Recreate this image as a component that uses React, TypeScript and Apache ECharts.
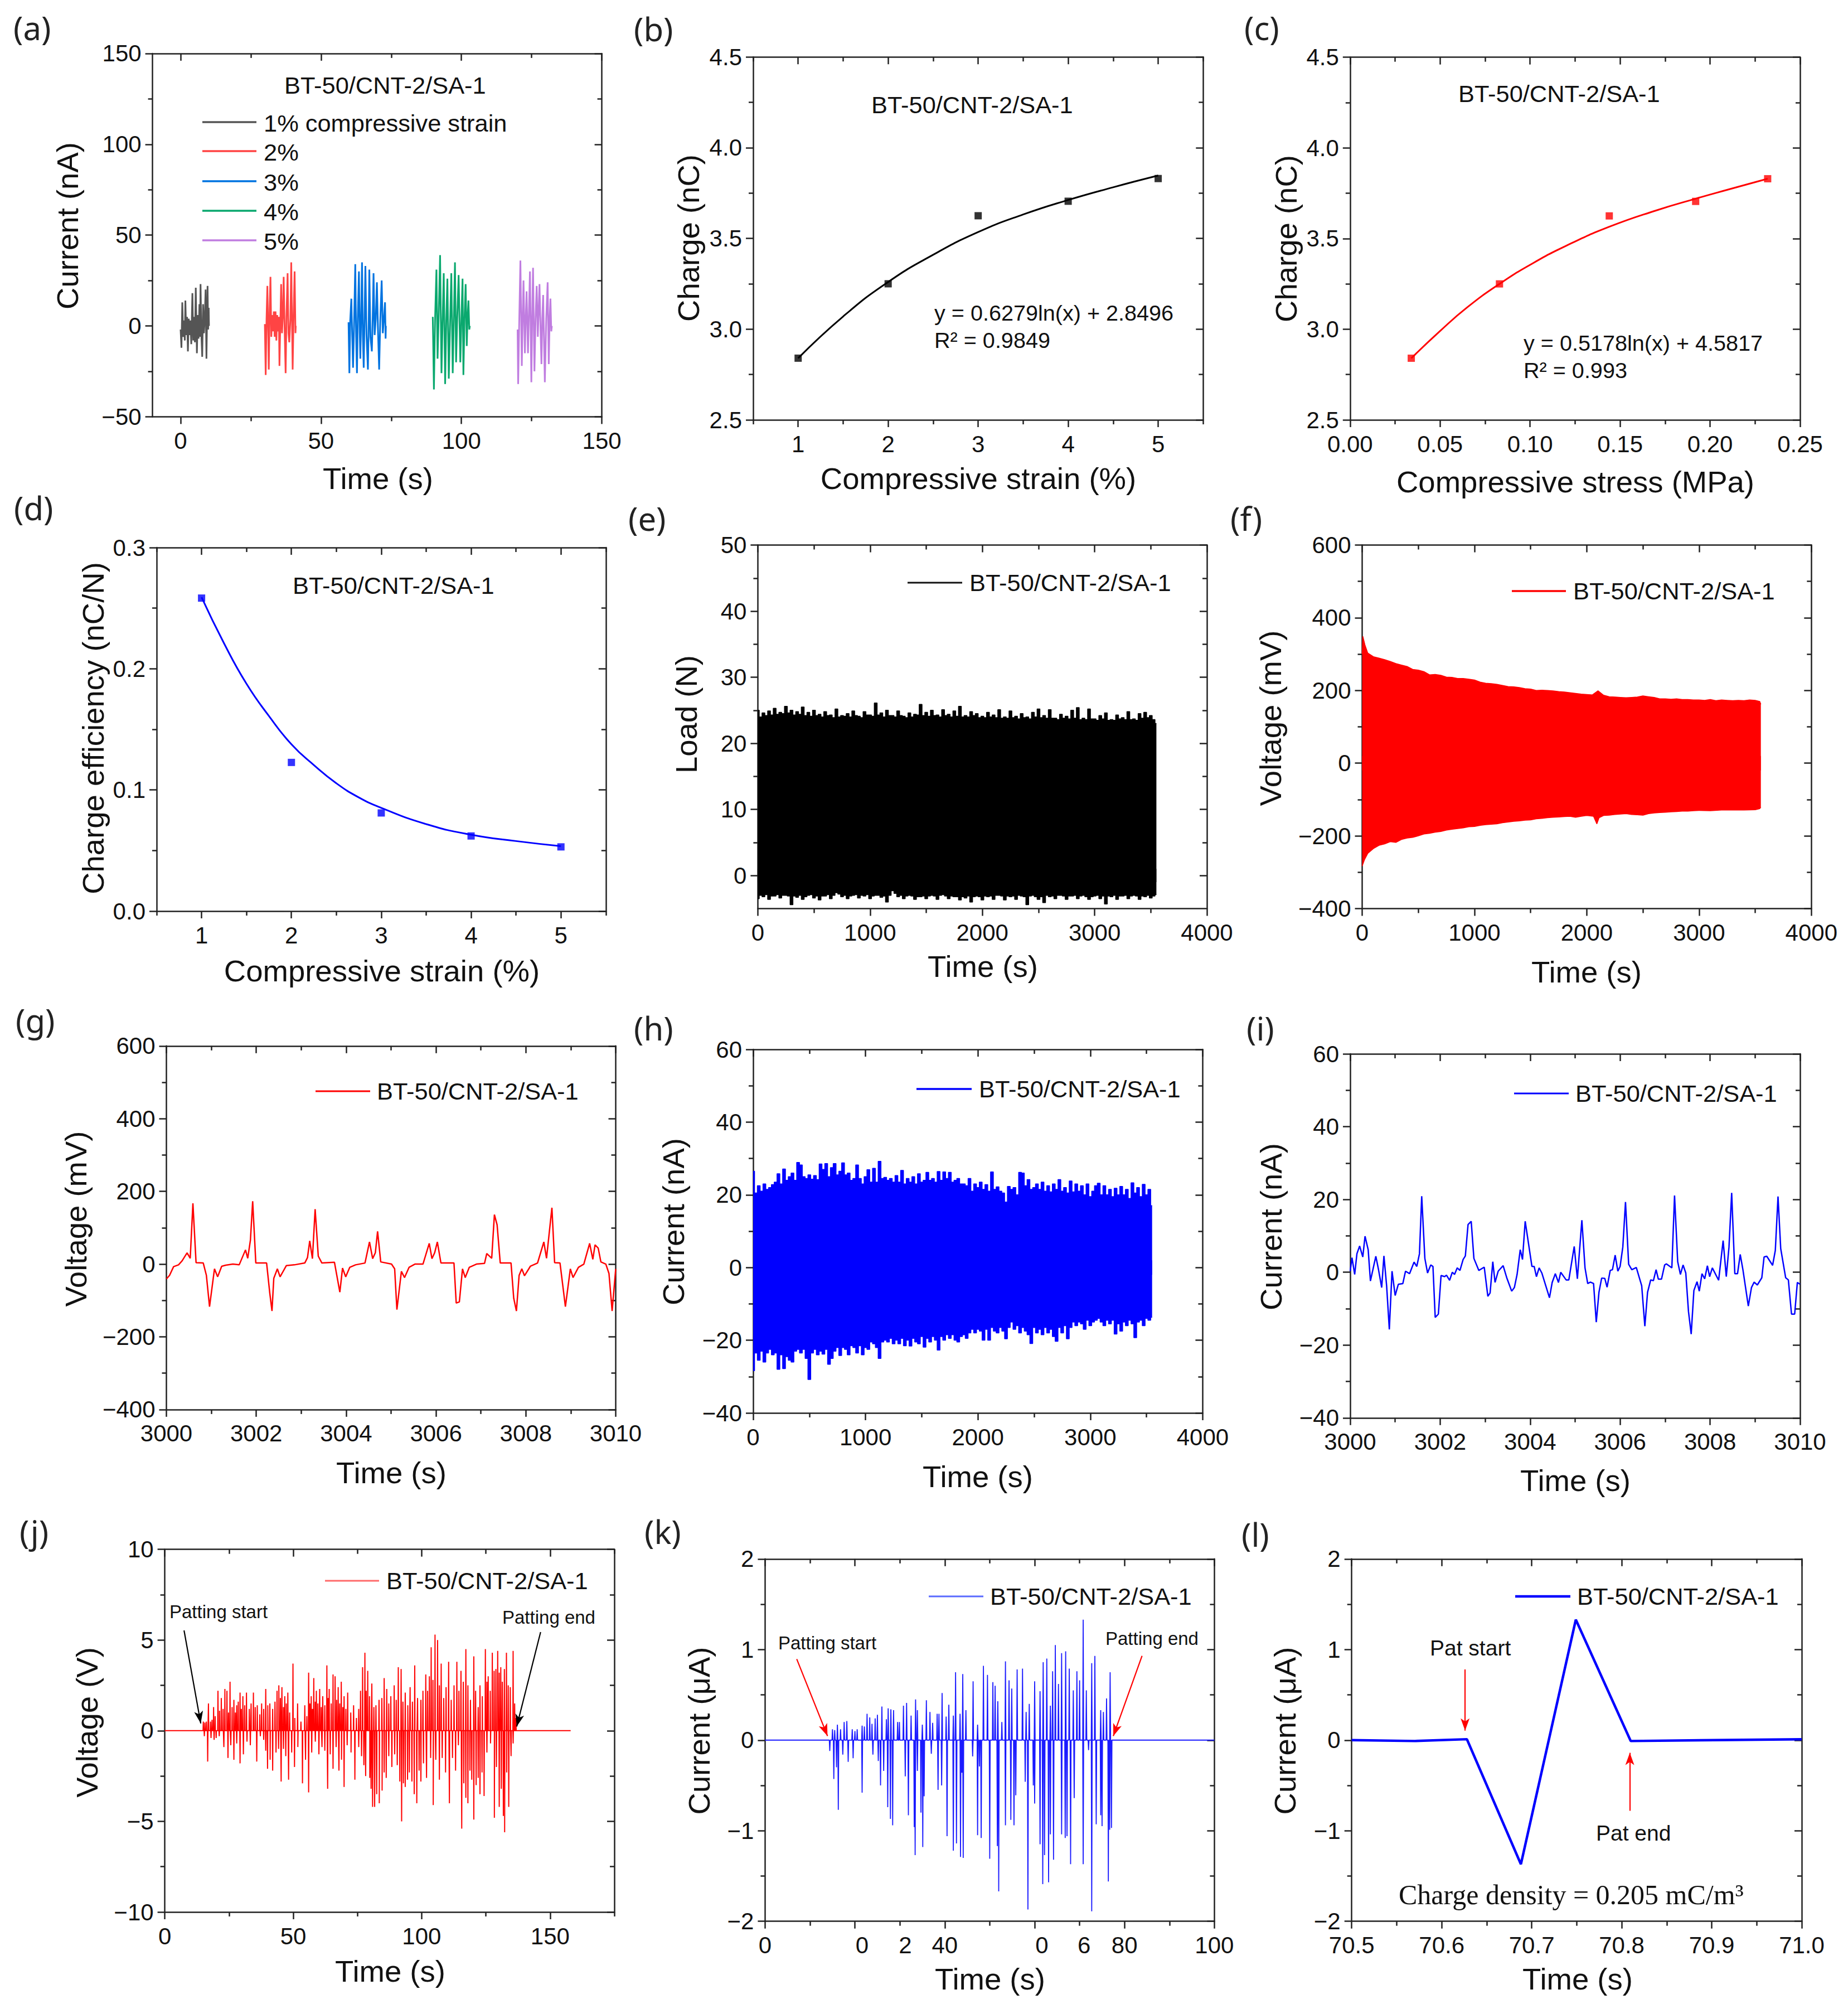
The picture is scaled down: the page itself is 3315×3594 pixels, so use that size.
import { useRef, useEffect } from 'react'
import * as echarts from 'echarts'

const SANS = '"Liberation Sans", Arial, sans-serif'
const TEXT = '#111'
const AXIS = '#222'
const LEGEND_NAME = 'BT-50/CNT-2/SA-1'
const TITLE_SIZE = 54.5
const LEGEND_SIZE = 43.4

// (a) current bursts at increasing strain, [time, nA]
const strain1 = [[0,-2],[0.3,-12],[0.6,13],[0.9,-6],[1.2,3],[1.5,-8],[1.7,14],[2.0,-5],[2.3,5],[2.6,-14],[2.9,4],[3.2,-5],[3.5,3],[3.8,-10],[4.2,18],[4.5,-8],[4.8,5],[5.1,-9],[5.4,21],[5.8,-15],[6.1,6],[6.4,-7],[6.7,12],[6.9,-6],[7.1,23],[7.4,-5],[7.7,-17],[8.0,12],[8.3,-4],[8.6,4],[8.9,20],[9.2,-18],[9.6,22],[9.8,-2],[10,10],[10.1,0]]
const strain2 = [[30,1],[30.3,-27],[30.6,4],[30.9,22],[31.2,-4],[31.4,-24],[31.7,8],[32,27],[32.3,-6],[32.6,6],[32.9,-3],[33.2,8],[33.5,-6],[33.8,8],[34.1,-8],[34.4,6],[34.7,-3],[35,5],[35.2,-22],[35.8,23],[36.1,-4],[36.4,5],[36.7,27],[37.1,-6],[37.4,-26],[37.7,5],[38.1,29],[38.4,-4],[38.7,-9],[39.1,4],[39.4,35],[39.9,-24],[40.2,3],[40.6,30],[40.9,-4],[41,0]]
const strain3 = [[59.8,2],[60.1,-26],[60.4,3],[60.8,15],[61.1,-5],[61.4,-23],[61.8,3],[62.2,34],[62.5,-6],[62.8,-26],[63.1,4],[63.5,30],[63.8,-4],[64,-18],[64.3,5],[64.6,35],[64.9,-5],[65.2,-23],[65.5,4],[65.8,33],[66.2,-5],[66.7,-24],[67,3],[67.2,31],[67.6,-6],[68.1,-14],[68.4,4],[68.7,29],[69.1,-5],[69.5,4],[69.9,24],[70.3,-3],[70.7,-24],[71.1,3],[71.6,25],[72,-4],[72.4,4],[72.8,13],[73,-7],[73.1,0]]
const strain4 = [[89.8,5],[90.2,-35],[90.6,3],[91.1,31],[91.5,-18],[91.9,5],[92.4,39],[92.9,-26],[93.3,3],[93.7,29],[94.2,-32],[94.6,3],[95,26],[95.5,-29],[96,4],[96.4,29],[96.9,-26],[97.3,4],[97.7,35],[98.1,-20],[98.5,4],[99,28],[99.6,-20],[100,4],[100.4,26],[100.7,-27],[101.1,4],[101.5,23],[101.9,-11],[102.2,5],[102.5,14],[102.8,-2],[103,0]]
const strain5 = [[120,-2],[120.2,-32],[120.6,4],[121,36],[121.5,-22],[121.8,4],[122.1,25],[122.6,-15],[122.9,4],[123.2,19],[123.7,-15],[124,5],[124.4,30],[124.9,-31],[125.2,5],[125.5,32],[126,-25],[126.4,4],[126.8,22],[127.2,-6],[127.8,23],[128.2,-4],[128.5,-21],[128.8,4],[129.1,17],[129.7,-31],[130.2,4],[130.7,24],[131.1,-21],[131.4,3],[131.7,15],[132,-3],[132.2,0]]
const strainColors = ['#555555', '#ff4444', '#0073e0', '#0aa86e', '#c07de0']
const strainLabels = ['1% compressive strain', '2%', '3%', '4%', '5%']

// (b) charge vs strain
const chargeStrainPts = [[1,2.84],[2,3.25],[3,3.625],[4,3.705],[5,3.83]]
const chargeStrainFit = [[1,2.84],[1.5,3.07],[2,3.26],[2.5,3.41],[3,3.535],[3.5,3.632],[4,3.712],[4.5,3.782],[5,3.847]]
// (c) charge vs stress
const chargeStressPts = [[0.034,2.84],[0.083,3.25],[0.144,3.625],[0.192,3.705],[0.232,3.83]]
const chargeStressFit = [[0.034,2.84],[0.05,2.99],[0.065,3.12],[0.083,3.25],[0.1,3.355],[0.12,3.46],[0.144,3.565],[0.17,3.655],[0.192,3.72],[0.21,3.77],[0.232,3.83]]
// (d) charge efficiency
const efficiencyPts = [[1,0.2583],[2,0.1227],[3,0.081],[4,0.062],[5,0.053]]
const efficiencyFit = [[1,0.259],[1.25,0.221],[1.5,0.1876],[1.75,0.161],[2,0.1377],[2.25,0.1205],[2.5,0.1055],[2.75,0.0938],[3,0.0852],[3.5,0.0718],[4,0.063],[4.5,0.0578],[5,0.0536]]

// (e) load band, upper and lower edge read every 25 s
const loadUpper = [25.0,24.0,24.6,24.2,24.9,24.3,25.3,24.4,24.7,24.5,25.6,24.6,25.0,24.3,24.8,24.4,25.5,24.2,24.7,24.1,25.0,24.2,24.4,24.0,24.8,24.2,24.3,23.9,25.2,24.0,24.2,24.1,24.5,24.0,24.9,24.2,24.1,23.9,24.8,24.3,24.3,24.1,26.1,24.3,24.6,24.0,25.0,24.2,24.2,24.0,24.9,24.2,24.1,23.9,24.6,24.0,24.4,24.3,25.9,24.2,24.7,24.1,25.0,24.2,24.3,24.0,25.1,24.2,24.4,24.0,24.9,24.1,25.6,24.0,24.2,24.0,24.8,24.2,24.5,23.9,24.1,23.9,24.7,24.0,24.3,23.9,25.1,23.8,24.0,23.8,24.9,23.9,24.1,23.7,24.5,23.9,24.0,23.7,24.7,24.0,25.2,23.9,24.2,23.8,25.1,23.8,23.8,23.6,24.4,23.8,24.1,23.7,25.0,23.8,25.4,23.6,23.8,23.6,25.2,23.7,23.7,23.5,24.2,23.7,24.6,23.5,23.6,23.5,24.3,23.7,23.9,23.6,24.8,23.6,23.7,23.5,24.5,23.8,24.7,23.9,24.2,23.6,23.0]
const loadLower = [-3.5,-3.0,-3.2,-2.9,-3.6,-3.1,-3.1,-2.9,-3.4,-3.0,-3.0,-3.1,-4.4,-3.1,-3.3,-3.0,-3.6,-3.2,-3.0,-2.9,-3.4,-3.1,-3.7,-3.1,-3.1,-2.9,-3.5,-3.0,-2.6,-2.8,-3.2,-3.0,-3.5,-3.1,-3.0,-2.9,-3.4,-3.0,-3.1,-2.9,-3.5,-3.1,-3.0,-3.0,-3.3,-3.1,-4.0,-3.0,-2.3,-2.7,-3.2,-3.0,-3.5,-3.1,-3.0,-3.1,-3.6,-3.2,-3.2,-3.1,-3.5,-3.1,-3.0,-3.1,-3.6,-3.0,-2.9,-3.1,-3.5,-3.1,-3.2,-3.2,-3.7,-3.2,-3.4,-3.1,-4.0,-3.2,-3.1,-3.2,-3.7,-3.1,-3.2,-3.1,-3.6,-3.0,-3.0,-3.1,-3.7,-3.1,-3.2,-3.1,-3.6,-3.0,-3.1,-3.2,-4.4,-3.1,-3.0,-3.2,-3.6,-3.2,-4.1,-3.0,-3.2,-3.1,-3.5,-3.0,-3.0,-3.1,-3.6,-3.1,-3.1,-3.0,-3.5,-3.1,-3.0,-3.2,-3.6,-3.2,-3.1,-3.0,-3.5,-3.1,-4.3,-3.1,-3.2,-3.0,-3.6,-3.1,-3.1,-3.0,-3.5,-3.1,-3.0,-3.1,-3.6,-3.1,-3.2,-3.0,-3.4,-3.1,-2.9]

// (f) voltage band
const voltUpper = [[0,300],[6,349],[25,325],[50,303],[100,293],[150,289],[200,285],[250,280],[300,274],[350,270],[400,266],[450,258],[500,256],[550,252],[600,243],[650,244],[700,242],[750,237],[800,236],[850,233],[900,233],[950,231],[1000,229],[1050,223],[1100,220],[1150,219],[1200,217],[1250,214],[1300,211],[1350,210],[1400,208],[1450,205],[1500,204],[1550,200],[1600,201],[1650,200],[1700,199],[1750,197],[1800,196],[1850,194],[1900,192],[1950,190],[2000,189],[2050,188],[2100,199],[2150,187],[2200,183],[2250,182],[2300,181],[2350,180],[2400,181],[2450,182],[2500,185],[2550,183],[2600,181],[2650,177],[2700,177],[2750,176],[2800,177],[2850,175],[2900,175],[2950,174],[3000,174],[3050,173],[3100,175],[3150,172],[3200,174],[3250,173],[3300,172],[3350,173],[3400,172],[3450,174],[3500,173],[3540,170],[3550,162]]
const voltLower = [[0,-283],[20,-266],[50,-248],[100,-235],[150,-226],[200,-222],[250,-216],[300,-218],[350,-210],[400,-206],[450,-204],[500,-200],[550,-195],[600,-193],[650,-190],[700,-188],[750,-184],[800,-182],[850,-180],[900,-178],[950,-175],[1000,-174],[1050,-171],[1100,-169],[1150,-168],[1200,-167],[1250,-164],[1300,-162],[1350,-160],[1400,-159],[1450,-157],[1500,-156],[1550,-153],[1600,-152],[1650,-150],[1700,-149],[1750,-148],[1800,-147],[1850,-146],[1900,-149],[1950,-146],[2000,-144],[2060,-146],[2090,-167],[2110,-150],[2150,-144],[2200,-143],[2250,-141],[2300,-140],[2350,-139],[2400,-141],[2450,-142],[2500,-143],[2550,-139],[2600,-137],[2650,-136],[2700,-135],[2750,-134],[2800,-133],[2850,-132],[2900,-132],[2950,-131],[3000,-130],[3100,-131],[3200,-129],[3300,-129],[3400,-129],[3500,-128],[3540,-125],[3550,-121]]

// (g) voltage detail, time offset from 3000 s
const voltDetail = [[0,-41],[.07,-31],[.16,-7],[.27,-2],[.35,9],[.46,31],[.53,16],[.59,167],[.66,4],[.82,3],[.89,-31],[.96,-117],[1.07,-13],[1.14,-35],[1.23,-6],[1.32,-3],[1.48,0],[1.62,-2],[1.76,39],[1.81,16],[1.87,66],[1.92,173],[1.99,3],[2.23,3],[2.30,-79],[2.35,-129],[2.39,-39],[2.47,-13],[2.53,-35],[2.67,-4],[2.85,-2],[3.08,3],[3.14,18],[3.19,64],[3.25,15],[3.31,151],[3.38,22],[3.46,3],[3.74,5],[3.86,-77],[3.92,-11],[3.99,-35],[4.08,-9],[4.21,-2],[4.42,3],[4.52,61],[4.59,15],[4.65,31],[4.70,90],[4.77,6],[5.01,0],[5.08,-13],[5.13,-125],[5.23,-20],[5.30,-37],[5.40,-9],[5.53,0],[5.71,0],[5.85,57],[5.91,15],[5.97,31],[6.03,61],[6.11,3],[6.40,3],[6.45,-107],[6.52,-104],[6.59,-13],[6.65,-37],[6.74,-9],[6.90,0],[7.08,2],[7.13,29],[7.24,16],[7.30,136],[7.36,108],[7.43,3],[7.67,3],[7.73,-94],[7.79,-129],[7.85,-31],[7.91,-13],[7.97,-32],[8.10,-6],[8.26,3],[8.40,61],[8.46,16],[8.58,155],[8.64,4],[8.76,3],[8.88,-117],[8.99,-13],[9.05,-37],[9.17,-9],[9.29,0],[9.42,57],[9.49,13],[9.54,53],[9.61,44],[9.67,6],[9.78,0],[9.85,-26],[9.92,-129],[10,-13]]

// (h) current band, edges read every 25 s
const currentUpper = [26.5,20.5,22.5,21,23,21.5,22,22.8,23.5,25.8,23,27.1,24,25,26,24,28.9,28.2,25,24.5,25.5,24.3,25.3,24.2,28.5,27,28.6,25,27.5,28.6,25.5,26.5,28.8,25.5,26,24,24.5,28.2,24.5,23,25,26.9,23.5,27.3,23.5,29.2,24.5,24.8,24,24.5,23.5,25.3,23.5,26.7,23,24.5,23.5,25,23,25.8,23.5,24,26.2,24,24.5,23.5,26.4,24,26.3,24.5,26.2,23.5,24,24.5,23,23,22.5,24.5,21,23,22,23.5,21.5,22.8,21,26.3,21.5,22.2,21,20.5,18,22.3,21.5,22,20,26.2,26,22.5,24.2,21.5,22,23,21.5,23.5,21,22.5,20.8,23,21.5,24.2,21,22,20.5,23.8,20.8,23,21,22.5,20,23,19.5,21,22.5,23.2,20,22.5,20,21.5,19.5,21.8,20,22.3,20,21.5,19,23.3,20.5,22,19.5,22.9,20,21.5,17]
const currentLower = [-28.4,-23.5,-25.5,-23,-26,-23.5,-22.5,-24,-23.5,-28,-24,-27.8,-24.5,-25.5,-26,-23,-22.5,-23.5,-22.5,-25,-30.8,-23.5,-22.5,-24,-23,-23.8,-22.5,-26.6,-25,-23,-22,-24.2,-22,-22.5,-24,-21.5,-22,-23.5,-21.5,-24,-22,-22.5,-20.5,-21,-22,-25,-20.5,-20,-20.5,-19.5,-21,-20,-21,-19.5,-21.5,-20,-21.6,-19.5,-20.5,-21,-19,-21.9,-19.5,-20.5,-19,-20,-22.7,-19,-20,-18.5,-19.5,-18.5,-20,-20.5,-19,-18.5,-19.5,-18,-17,-18,-17,-17.5,-20,-17,-20,-16.5,-17.5,-18,-16.5,-17.5,-19.6,-16.5,-15,-17,-16,-18,-16.5,-17.5,-18.5,-20.9,-16.5,-18,-17,-18.5,-16.5,-18,-17,-19,-20.3,-16.5,-18,-16,-19.6,-16.5,-15,-16,-15,-15.5,-17,-14.5,-16,-15,-14.5,-14,-15,-16,-14.5,-15.5,-14.5,-18.3,-15.5,-17.5,-15,-16,-14.5,-15.5,-19.3,-15,-14.5,-16,-14,-14.5,-13.7]

// (i) current detail, time offset from 3000 s
const currentDetail = [[0,.3],[.04,4],[.10,-.6],[.15,5.1],[.21,7.2],[.28,4.2],[.33,9.9],[.40,6.2],[.45,-2.4],[.57,4.4],[.63,.7],[.70,-4.2],[.75,4.5],[.81,-3.7],[.87,-15.7],[.93,.3],[1.00,-6.4],[1.07,-3.3],[1.17,-3.1],[1.23,.3],[1.32,-.4],[1.42,2.8],[1.48,1.6],[1.54,5.1],[1.59,20.9],[1.66,3.8],[1.72,-.2],[1.79,2],[1.84,1.6],[1.89,-12.4],[1.96,-11.5],[2.02,-.9],[2.10,-1.2],[2.14,-.8],[2.21,-2.2],[2.27,0],[2.32,-.6],[2.38,1.2],[2.44,.5],[2.51,3.5],[2.56,4.5],[2.62,13.1],[2.69,14],[2.75,3.8],[2.86,.5],[2.98,1.4],[3.06,-6.6],[3.11,-5.7],[3.17,2.9],[3.22,-2.8],[3.29,.3],[3.40,1.8],[3.48,-1.5],[3.59,-5.2],[3.65,-4.2],[3.71,-.6],[3.78,6.2],[3.83,3.5],[3.89,14],[4.04,1.6],[4.09,1.6],[4.14,-1.2],[4.20,1.2],[4.26,-.2],[4.43,-7],[4.49,-2.8],[4.56,-.4],[4.63,-2.8],[4.68,0],[4.80,-2.1],[4.86,-2.1],[4.98,7.1],[5.05,-1.8],[5.15,14.3],[5.22,1.2],[5.28,-3.1],[5.34,-2.7],[5.41,-3.1],[5.47,-13.7],[5.53,-5.5],[5.59,-1.6],[5.66,-1.7],[5.71,-4.1],[5.78,.5],[5.83,.7],[5.89,4.7],[5.95,.3],[6.00,1.6],[6.06,6.9],[6.12,19.3],[6.19,2.2],[6.26,.7],[6.36,1.3],[6.48,-3.7],[6.55,-14.8],[6.61,-5.5],[6.68,-2.1],[6.74,-2.3],[6.80,.7],[6.85,-1.9],[6.92,-1.9],[6.99,2],[7.03,2.3],[7.15,1.2],[7.21,21.1],[7.28,2.9],[7.34,-.6],[7.40,2],[7.46,-.2],[7.52,-10.8],[7.58,-17],[7.64,-5],[7.71,-2.6],[7.76,-5.2],[7.82,-.4],[7.88,-1.8],[7.94,1.8],[7.99,-1.2],[8.05,1.2],[8.19,-2.2],[8.29,8.7],[8.36,-1.2],[8.42,6.9],[8.48,21.8],[8.55,-.4],[8.61,-.4],[8.67,4.9],[8.73,.7],[8.85,-9.3],[8.92,-4.2],[8.98,-2.7],[9.05,-3.5],[9.15,-1.5],[9.20,4.2],[9.26,4.4],[9.39,1.9],[9.45,6],[9.51,20.8],[9.57,6.5],[9.68,-1.5],[9.74,-2.1],[9.81,-11.5],[9.88,-11.5],[9.94,-2.8],[10,-3.3]]

// (j) patting voltage spikes, [time, V]
const patVoltUp = [[15,.5],[15.6,.45],[16.2,.5],[17,1.5],[17.8,.5],[18.4,.6],[19,1.3],[19.6,.8],[20.7,2.2],[21.3,1.1],[22,1.8],[22.7,1.2],[23.4,2.3],[24.2,2.2],[24.8,1],[25.4,2.7],[26.2,1.3],[26.9,1.7],[27.5,1],[28,1.4],[28.6,1.6],[29.3,2.1],[29.8,1.2],[30.4,1.9],[31.1,1.4],[31.8,2.1],[32.9,1.2],[33.6,1.5],[34.5,2.1],[35.2,1.3],[36,1.4],[37,.9],[37.7,1.5],[38.5,1.2],[39.3,2.3],[40.1,1.4],[40.9,1.5],[42,1.2],[42.9,1.6],[43.7,2.2],[44.4,2.5],[45,1.8],[45.6,2.4],[46.2,1.3],[46.7,1.9],[47.3,1.5],[47.9,2.1],[48.6,1],[49.9,3.7],[50.6,.7],[51.7,1.5],[53,.5],[54.5,1.4],[55.3,.8],[56,3.2],[56.5,1.5],[57,1.9],[57.5,1.2],[58,2.9],[58.6,1.6],[59,2.2],[59.6,1.5],[60.3,2.3],[60.9,1.3],[61.5,1.9],[62.3,1.4],[63.1,3.6],[63.6,1.8],[64,2.3],[64.8,1.5],[65.5,3.1],[66.3,3],[66.9,1.7],[67.5,2.4],[68.1,1.5],[68.7,2.7],[69.3,1.3],[69.8,1.9],[70.5,1.2],[71.2,2.1],[72.4,1],[73.5,1.4],[74.6,.7],[75.5,1.2],[76.2,2.2],[77,3.5],[77.9,4.3],[78.4,2.2],[79,3.3],[79.7,1.9],[80.6,2.6],[81.4,1.3],[82.2,1.4],[83.4,1.7],[84.5,1.8],[85.4,2.9],[86.4,2.3],[87.2,1.5],[88,1.9],[89.3,2.5],[90.1,1.7],[90.9,3.5],[92,3.4],[92.7,1.6],[93.6,2.1],[94.6,1.4],[95.5,2.4],[96.4,1.6],[97.3,3.6],[98.4,1.8],[99.7,1.7],[100.5,2.2],[101.6,3.1],[102.3,2.2],[103,3],[103.7,4.6],[104.4,2.8],[105.2,5.3],[106.2,5],[106.9,2.5],[107.6,3.7],[108.6,1.8],[109.5,2.4],[110.5,3.8],[111.5,1.7],[112.6,2.5],[113.7,3.8],[114.5,2.2],[115.3,3.3],[116.2,2.7],[117.2,4.5],[118,2.5],[119,1.7],[120.3,4.1],[121,2.2],[122,1.3],[122.7,2.5],[123.6,1.9],[124.8,4.5],[125.4,2.7],[125.9,3],[126.7,2.2],[127.5,4.3],[128.2,3.3],[128.9,3.4],[129.6,4.4],[130.2,3.2],[130.8,3.5],[131.4,2.7],[132.2,3.4],[133,4.3],[133.7,2.5],[134.5,2.4],[135.6,4.4],[136.2,1.5],[136.7,.7]]
const patVoltDown = [[15.4,-.3],[16.7,-1.7],[18,-.4],[19.2,-.5],[20,-.4],[21.2,-.3],[23,-.9],[24.6,-1.5],[25.7,-.8],[26.9,-1.6],[28,-.7],[29.3,-1.8],[30.6,-1.3],[32,-.6],[33.3,-.8],[35.8,-1.7],[37.2,-.3],[38.5,-.5],[39.3,-1.1],[40,-2.1],[41,-1.6],[42,-2.2],[43.3,-1.2],[44.3,-1],[45.3,-2.8],[46.2,-1],[47.1,-1.4],[48.2,-2.7],[49.4,-1.2],[50.5,-2],[51.8,-.9],[53.6,-2.9],[54.8,-1.6],[56,-3.4],[57.2,-1.2],[58.6,-.6],[60,-1.3],[61.2,-.9],[62.3,-1.1],[63.4,-3.2],[64.4,-1.3],[65.5,-2.1],[66.7,-.9],[67.8,-2.2],[68.8,-1.6],[69.8,-3.1],[71,-.8],[72.5,-1.2],[74,-2.7],[75.5,-.9],[76.6,-1.4],[77.5,-1.9],[78.2,-2.5],[79.8,-2.6],[80.3,-3.2],[80.9,-4.2],[81.7,-4.2],[82.5,-3.5],[83.5,-4],[84.6,-3.3],[85.4,-2.3],[86.2,-2.6],[87.2,-1.4],[88.4,-2],[89.5,-1.3],[90.5,-1.9],[91.5,-2.8],[92.2,-5],[92.9,-2.9],[93.6,-3.1],[94.5,-2.7],[95.2,-2.3],[96.2,-2.8],[97.1,-3.5],[98.1,-4],[99,-2.2],[99.7,-2.8],[100.7,-1.8],[101.9,-2.6],[103.5,-1.5],[104.5,-4.1],[105.5,-1.6],[106.9,-2.7],[108,-1.5],[109.3,-2.3],[110.8,-4],[112,-1.5],[113.2,-2.2],[114.3,-.8],[115.6,-5.4],[116.4,-2.9],[117.2,-3.7],[118,-4],[118.8,-2.2],[119.5,-2.7],[120.3,-4.9],[121.2,-3],[122,-2.6],[122.7,-3.5],[123.5,-2.3],[124.3,-3.6],[125.4,-1.2],[126.8,-.7],[128.3,-4.8],[129.1,-2],[130.2,-4.2],[131,-3.2],[131.8,-4.7],[132.3,-5.6],[133.1,-2.3],[133.9,-4.2],[134.8,-1.4],[135.6,-.7]]

// (k) patting current spikes, [time, uA]
const patCurrentUp = [[15,.12],[15.5,.11],[16.1,.17],[16.8,.12],[17.6,.2],[18.2,.21],[19.4,.12],[20,.1],[20.5,.12],[21.6,.16],[22.1,.15],[22.7,.29],[23.3,.25],[23.8,.18],[24.5,.24],[25,.28],[26,.37],[27,.23],[27.4,.35],[28,.34],[28.6,.33],[29.5,.2],[29.9,.2],[30.8,.38],[31.5,.41],[32.5,.27],[33.5,.45],[33.9,.33],[35,.17],[35.9,.44],[36.7,.31],[37.3,.19],[38.3,.29],[38.7,.29],[39.4,.52],[40.3,.26],[40.9,.39],[41.9,.27],[42.4,.75],[43.4,.29],[44,.73],[44.7,.33],[46.3,.65],[47.3,.17],[48.6,.82],[49.5,.72],[50.7,.64],[51.2,.6],[51.8,.43],[52.7,.2],[53.5,.87],[54.3,.66],[54.9,.57],[56.1,.78],[57.3,.79],[58.1,.31],[58.8,.4],[60,.65],[61.2,.54],[61.9,.86],[62.7,.9],[63.5,.38],[64,.76],[64.6,1.05],[65.3,.62],[66,.96],[66.9,.98],[67.7,.79],[68.6,.55],[69.4,.76],[70,.66],[70.8,1.33],[71.5,.55],[72.7,.85],[73.4,.93],[74.7,.33],[75.3,.31],[76,.46],[76.8,.75]]
const patCurrentDown = [[14.4,-.12],[15.3,-.43],[15.9,-.3],[16.3,-.77],[17.3,-.16],[18.5,-.24],[19.6,-.2],[21.6,-.58],[24,-.16],[25.2,-.23],[25.7,-.5],[26.4,-.34],[27.3,-.74],[27.9,-.87],[28.4,-.94],[31.2,-.4],[31.9,-.83],[33.2,-.96],[33.4,-1.27],[33.9,-.34],[34.7,-.8],[35.1,-1.18],[35.4,-.62],[37,-.15],[38.5,-.55],[39.3,-.5],[40.5,-1.06],[41.9,-1.22],[42.6,-1.14],[43.5,-1.29],[43.8,-.36],[44.1,-1.3],[46.2,-.18],[47.3,-1.05],[47.7,-.29],[48.1,-1.08],[50,-1.31],[51.7,-1.17],[52,-1.67],[53.5,-.94],[54.7,-.88],[55.4,-.94],[55.8,-.61],[57.9,-.46],[58.5,-1.87],[59.7,-.5],[60,-.7],[61.2,-1.15],[61.8,-1.59],[62.2,-1.27],[63.1,-1.57],[63.5,-1.04],[64.2,-1.32],[66,-1.04],[66.8,-1.08],[67.2,-1.06],[68,-1.37],[68.8,-.64],[70.8,-1.37],[72,-.11],[72.7,-1.89],[73.7,-.93],[74.7,-.83],[75,-.95],[76.4,-1.56],[76.7,-.99],[77.1,-.97]]

// (l) single pat
const singlePat = [[70.5,0],[70.57,-0.01],[70.628,0.01],[70.688,-1.37],[70.749,1.33],[70.81,-0.01],[71,0.01]]

// panel k keeps its broken tick labels, placed where they sit in the original
const kLabelAt = [0,21.6,31.2,40,61.6,71,80,100]
const kLabelText = ['0','0','2','40','0','6','80','100']

interface Panel {
  rect: number[]
  x: number[]
  xMajor: number[]
  xMinor: number[]
  xDec?: number
  y: number[]
  yMajor: number[]
  yMinor: number[]
  yDec?: number
  xLabelAt?: number[]
  xLabelText?: string[]
}

const timeMajor = [0,1000,2000,3000,4000]
const timeMinor = [500,1500,2500,3500]
const detailMajor = [3000,3002,3004,3006,3008,3010]
const detailMinor = [3001,3003,3005,3007,3009]
const strainMajor = [1,2,3,4,5]
const strainMinor = [0.5,1.5,2.5,3.5,4.5,5.5]
const chargeMajor = [2.5,3,3.5,4,4.5]
const chargeMinor = [2.75,3.25,3.75,4.25]
const mvMajor = [-400,-200,0,200,400,600]
const mvMinor = [-300,-100,100,300,500]
const naMajor = [-40,-20,0,20,40,60]
const naMinor = [-30,-10,10,30,50]
const patMajor = [-2,-1,0,1,2]
const patMinor = [-1.5,-0.5,0.5,1.5]

const panels: Panel[] = [
  { rect: [273.6,95.9,1079.6,747.4], x: [-10,150], xMajor: [0,50,100,150], xMinor: [25,75,125], y: [-50,150], yMajor: [-50,0,50,100,150], yMinor: [-25,25,75,125] },
  { rect: [1351,102.2,2158.3,753], x: [0.5,5.5], xMajor: strainMajor, xMinor: strainMinor, y: [2.5,4.5], yMajor: chargeMajor, yMinor: chargeMinor, yDec: 1 },
  { rect: [2421.8,102.7,3229,753], x: [0,0.25], xMajor: [0,0.05,0.1,0.15,0.2,0.25], xMinor: [0.025,0.075,0.125,0.175,0.225], xDec: 2, y: [2.5,4.5], yMajor: chargeMajor, yMinor: chargeMinor, yDec: 1 },
  { rect: [281,982,1086.8,1634], x: [0.5,5.5], xMajor: strainMajor, xMinor: strainMinor, y: [0,0.3], yMajor: [0,0.1,0.2,0.3], yMinor: [0.05,0.15,0.25], yDec: 1 },
  { rect: [1359.4,977.5,2165,1629.5], x: [0,4000], xMajor: timeMajor, xMinor: timeMinor, y: [-5,50], yMajor: [0,10,20,30,40,50], yMinor: [5,15,25,35,45] },
  { rect: [2443.5,977.5,3249.3,1629.5], x: [0,4000], xMajor: timeMajor, xMinor: timeMinor, y: [-400,600], yMajor: mvMajor, yMinor: mvMinor },
  { rect: [298.5,1875.8,1104.5,2527.9], x: [3000,3010], xMajor: detailMajor, xMinor: detailMinor, y: [-400,600], yMajor: mvMajor, yMinor: mvMinor },
  { rect: [1351,1882,2157.4,2534], x: [0,4000], xMajor: timeMajor, xMinor: timeMinor, y: [-40,60], yMajor: naMajor, yMinor: naMinor },
  { rect: [2422,1890,3229,2542.8], x: [3000,3010], xMajor: detailMajor, xMinor: detailMinor, y: [-40,60], yMajor: naMajor, yMinor: naMinor },
  { rect: [295.6,2778.7,1102,3429], x: [0,175], xMajor: [0,50,100,150], xMinor: [25,75,125,175], y: [-10,10], yMajor: [-10,-5,0,5,10], yMinor: [-7.5,-2.5,2.5,7.5] },
  { rect: [1372.4,2795.8,2178.4,3445.7], x: [0,100], xMajor: [0,20,40,60,80,100], xMinor: [10,30,50,70,90], xLabelAt: kLabelAt, xLabelText: kLabelText, y: [-2,2], yMajor: patMajor, yMinor: patMinor },
  { rect: [2424.7,2795.8,3232,3445.7], x: [70.5,71], xMajor: [70.5,70.6,70.7,70.8,70.9,71], xMinor: [70.55,70.65,70.75,70.85,70.95], xDec: 1, y: [-2,2], yMajor: patMajor, yMinor: patMinor },
]

const fmt = (v: number, dec = 0) => v.toFixed(dec).replace('-', '\u2212')

// every side gets two axes: one for the long ticks and one for the short ones
function sideAxis(grid: number, range: number[], position: string, ticks: number[], long: boolean, inside: boolean, label?: object) {
  return {
    type: 'value',
    gridIndex: grid,
    position,
    min: range[0],
    max: range[1],
    splitLine: { show: false },
    minorTick: { show: false },
    axisPointer: { show: false },
    axisLine: { show: long, onZero: false, lineStyle: { color: AXIS, width: 2.5 } },
    axisTick: { show: true, customValues: ticks, inside, length: long ? 13 : 8, lineStyle: { color: AXIS, width: 2.5 } },
    axisLabel: label ?? { show: false },
  }
}

function buildAxes() {
  const xAxis: object[] = []
  const yAxis: object[] = []
  panels.forEach((p, g) => {
    const labelAt = p.xLabelAt ?? p.xMajor
    const xLabel = {
      show: true,
      customValues: labelAt,
      margin: 22,
      fontSize: 42,
      fontFamily: SANS,
      color: TEXT,
      hideOverlap: false,
      formatter: (v: number) => (p.xLabelText ? p.xLabelText[labelAt.indexOf(v)] : fmt(v, p.xDec)),
    }
    const yLabel = {
      show: true,
      customValues: p.yMajor,
      margin: 20,
      fontSize: 42,
      fontFamily: SANS,
      color: TEXT,
      hideOverlap: false,
      formatter: (v: number) => fmt(v, p.yDec),
    }
    xAxis.push(
      sideAxis(g, p.x, 'bottom', p.xMajor, true, false, xLabel),
      sideAxis(g, p.x, 'bottom', p.xMinor, false, false),
      sideAxis(g, p.x, 'top', p.xMajor, true, true),
      sideAxis(g, p.x, 'top', p.xMinor, false, true),
    )
    yAxis.push(
      sideAxis(g, p.y, 'left', p.yMajor, true, false, yLabel),
      sideAxis(g, p.y, 'left', p.yMinor, false, false),
      sideAxis(g, p.y, 'right', p.yMajor, true, true),
      sideAxis(g, p.y, 'right', p.yMinor, false, true),
    )
  })
  return { xAxis, yAxis }
}

function line(g: number, name: string, data: number[][], color: string, width: number, extra: object = {}) {
  return {
    type: 'line',
    name,
    xAxisIndex: g * 4,
    yAxisIndex: g * 4,
    data,
    symbol: 'none',
    lineStyle: { color, width },
    itemStyle: { color },
    ...extra,
  }
}

function dots(g: number, name: string, data: number[][], color: string) {
  return {
    type: 'scatter',
    name,
    xAxisIndex: g * 4,
    yAxisIndex: g * 4,
    data,
    symbol: 'rect',
    symbolSize: 13,
    itemStyle: { color },
  }
}

// the dense traces are drawn as a band: each edge fills past the other side of 0
// so that no seam shows in the middle
function band(g: number, name: string, upper: number[][], lower: number[][], color: string, overlap: number, stepped: boolean) {
  const step = stepped ? { step: 'middle' } : {}
  return [
    line(g, name + ' upper', upper, color, 1.5, { ...step, areaStyle: { color, opacity: 1, origin: -overlap } }),
    line(g, name + ' lower', lower, color, 1.5, { ...step, areaStyle: { color, opacity: 1, origin: overlap } }),
  ]
}

const everyStep = (values: number[], step: number) => values.map((v, i) => [i * step, v])
const shift3000 = (pts: number[][]) => pts.map(([t, v]) => [3000 + t, v])

// each read spike is drawn as a narrow peak on the zero baseline
function spikes(up: number[][], down: number[][], end: number, baseline: number[][]) {
  const all = [...up, ...down].sort((a, b) => a[0] - b[0])
  const out: number[][] = [...baseline]
  all.forEach(([t, v]) => {
    out.push([t - 0.1, 0], [t, v], [t + 0.1, 0])
  })
  out.push([end, 0])
  return out
}

function arrows(color: string, items: number[][][]) {
  return {
    markLine: {
      silent: true,
      symbol: ['none', 'arrow'],
      symbolSize: [12, 22],
      label: { show: false },
      lineStyle: { color, width: 2.2, type: 'solid' },
      emphasis: { disabled: true },
      data: items.map(([a, b]) => [{ coord: a }, { coord: b }]),
    },
  }
}

function buildSeries() {
  const strains = [strain1, strain2, strain3, strain4, strain5]
  return [
    ...strains.map((s, i) => line(0, strainLabels[i], s, strainColors[i], 3)),
    line(1, 'fit b', chargeStrainFit, '#000', 3, { smooth: true }),
    dots(1, 'charge b', chargeStrainPts, '#000'),
    line(2, 'fit c', chargeStressFit, '#ff0000', 3, { smooth: true }),
    dots(2, 'charge c', chargeStressPts, '#ff0000'),
    line(3, 'fit d', efficiencyFit, '#0000ff', 3, { smooth: true }),
    dots(3, 'efficiency', efficiencyPts, '#0000ff'),
    ...band(4, 'load', everyStep(loadUpper, 25), everyStep(loadLower, 25), '#000', 1, true),
    ...band(5, 'voltage', voltUpper, voltLower, '#ff0000', 20, false),
    line(6, 'voltage detail', shift3000(voltDetail), '#ff0000', 2.5),
    ...band(7, 'current', everyStep(currentUpper, 25), everyStep(currentLower, 25), '#0000ff', 2, true),
    line(8, 'current detail', shift3000(currentDetail), '#0000ff', 2.5),
    line(9, 'pat voltage', spikes(patVoltUp, patVoltDown, 158, [[0, 0], [14.5, 0]]), '#ff0000', 2, arrows('#000', [
      [[7.5, 5.53], [14, 0.4]],
      [[146.3, 5.44], [137, 0.23]],
    ])),
    line(10, 'pat current', spikes(patCurrentUp, patCurrentDown, 100, [[0, 0], [14, 0]]), '#1a1aff', 1.8, arrows('#ff0000', [
      [[7.05, 0.895], [13.9, 0.045]],
      [[83.9, 0.93], [77.5, 0.045]],
    ])),
    line(11, 'single pat', singlePat, '#0000ff', 4.5, arrows('#ff0000', [
      [[70.626, 0.78], [70.626, 0.105]],
      [[70.809, -0.78], [70.809, -0.14]],
    ])),
  ]
}

function txt(x: number, y: number, text: string, fontSize: number, extra: object = {}) {
  return {
    type: 'text',
    x,
    y,
    z: 50,
    silent: true,
    style: { text, fontSize, fontFamily: SANS, fill: TEXT, align: 'left', verticalAlign: 'middle', ...extra },
  }
}

function seg(x1: number, x2: number, y: number, stroke: string, lineWidth: number) {
  return { type: 'line', z: 50, silent: true, shape: { x1, y1: y, x2, y2: y }, style: { stroke, lineWidth } }
}

function yTitle(x: number, y: number, text: string) {
  return { ...txt(x, y, text, TITLE_SIZE, { align: 'center' }), rotation: Math.PI / 2 }
}

function xTitle(x: number, y: number, text: string) {
  return txt(x, y, text, TITLE_SIZE, { align: 'center' })
}

function buildGraphic() {
  const letters: [string, number, number][] = [
    ['(a)', 24, 49], ['(b)', 1137, 51], ['(c)', 2232, 49], ['(d)', 25, 910], ['(e)', 1127, 929], ['(f)', 2207, 929],
    ['(g)', 28, 1829], ['(h)', 1137, 1843], ['(i)', 2236, 1843], ['(j)', 35, 2746], ['(k)', 1156, 2746], ['(l)', 2227, 2751],
  ]
  const strainRows = [219, 271, 325, 378, 431]
  return [
    ...letters.map(([s, x, y]) => txt(x, y, s, 58, { fontFamily: '"Noto Sans", sans-serif', fill: '#222' })),

    yTitle(121, 405, 'Current (nA)'), xTitle(678, 858, 'Time (s)'),
    yTitle(1235, 427, 'Charge (nC)'), xTitle(1755, 858, 'Compressive strain (%)'),
    yTitle(2307, 428, 'Charge (nC)'), xTitle(2826, 864, 'Compressive stress (MPa)'),
    yTitle(167, 1306, 'Charge efficiency (nC/N)'), xTitle(685, 1741, 'Compressive strain (%)'),
    yTitle(1231, 1281, 'Load (N)'), xTitle(1763, 1733, 'Time (s)'),
    yTitle(2279, 1288, 'Voltage (mV)'), xTitle(2846, 1743, 'Time (s)'),
    yTitle(136, 2186, 'Voltage (mV)'), xTitle(702, 2641, 'Time (s)'),
    yTitle(1208, 2191, 'Current (nA)'), xTitle(1754, 2648, 'Time (s)'),
    yTitle(2280, 2200, 'Current (nA)'), xTitle(2826, 2655, 'Time (s)'),
    yTitle(156, 3089, 'Voltage (V)'), xTitle(700, 3535, 'Time (s)'),
    yTitle(1254, 3104, 'Current (\u03bcA)'), xTitle(1776, 3549, 'Time (s)'),
    yTitle(2305, 3104, 'Current (\u03bcA)'), xTitle(2830, 3549, 'Time (s)'),

    txt(510, 153, LEGEND_NAME, LEGEND_SIZE),
    ...strainLabels.flatMap((s, i) => [
      seg(363, 460, strainRows[i], strainColors[i], 3.5),
      txt(473, strainRows[i] + 2, s, LEGEND_SIZE),
    ]),

    txt(1563, 188, LEGEND_NAME, LEGEND_SIZE),
    txt(1676, 561, 'y = 0.6279ln(x) + 2.8496', 39.6),
    txt(1676, 610, 'R\u00b2 = 0.9849', 39.6),

    txt(2616, 168, LEGEND_NAME, LEGEND_SIZE),
    txt(2733, 615, 'y = 0.5178ln(x) + 4.5817', 39.6),
    txt(2733, 664, 'R\u00b2 = 0.993', 39.6),

    txt(525, 1050, LEGEND_NAME, LEGEND_SIZE),

    seg(1628, 1726, 1045, '#111', 3), txt(1739, 1045, LEGEND_NAME, LEGEND_SIZE),
    seg(2712, 2809, 1060, '#ff0000', 3.5), txt(2822, 1060, LEGEND_NAME, LEGEND_SIZE),
    seg(566, 664, 1957, '#ff0000', 3), txt(676, 1957, LEGEND_NAME, LEGEND_SIZE),
    seg(1644, 1743, 1953, '#0000ff', 3.5), txt(1756, 1953, LEGEND_NAME, LEGEND_SIZE),
    seg(2716, 2814, 1961, '#0000ff', 3), txt(2826, 1961, LEGEND_NAME, LEGEND_SIZE),
    seg(583, 680, 2835, '#ff6a6a', 3), txt(693, 2835, LEGEND_NAME, LEGEND_SIZE),
    seg(1666, 1764, 2863, '#5a6aff', 3), txt(1776, 2863, LEGEND_NAME, LEGEND_SIZE),
    seg(2718, 2817, 2863, '#0000ff', 4.5), txt(2829, 2863, LEGEND_NAME, LEGEND_SIZE),

    txt(304, 2890, 'Patting start', 33), txt(901, 2900, 'Patting end', 33),
    txt(1396, 2946, 'Patting start', 33), txt(1983, 2938, 'Patting end', 33),
    txt(2565, 2955, 'Pat start', 39), txt(2863, 3287, 'Pat end', 39),
    txt(2509, 3398, 'Charge density = 0.205 mC/m\u00b3', 50, { fontFamily: '"Liberation Serif", serif' }),
  ]
}

export default function App() {
  const chartRef = useRef<HTMLDivElement>(null)

  useEffect(() => {
    document.body.style.margin = '0'
    if (!chartRef.current) return
    const chart = echarts.init(chartRef.current, undefined, { renderer: 'svg' })
    const { xAxis, yAxis } = buildAxes()
    chart.setOption({
      animation: false,
      backgroundColor: '#fff',
      tooltip: { show: false },
      grid: panels.map((p) => ({
        left: p.rect[0],
        top: p.rect[1],
        width: p.rect[2] - p.rect[0],
        height: p.rect[3] - p.rect[1],
      })),
      xAxis,
      yAxis,
      series: buildSeries(),
      graphic: buildGraphic(),
    } as echarts.EChartsOption)
    return () => chart.dispose()
  }, [])

  return <div ref={chartRef} style={{ position: 'absolute', left: 0, top: 0, width: 3315, height: 3594 }} />
}
